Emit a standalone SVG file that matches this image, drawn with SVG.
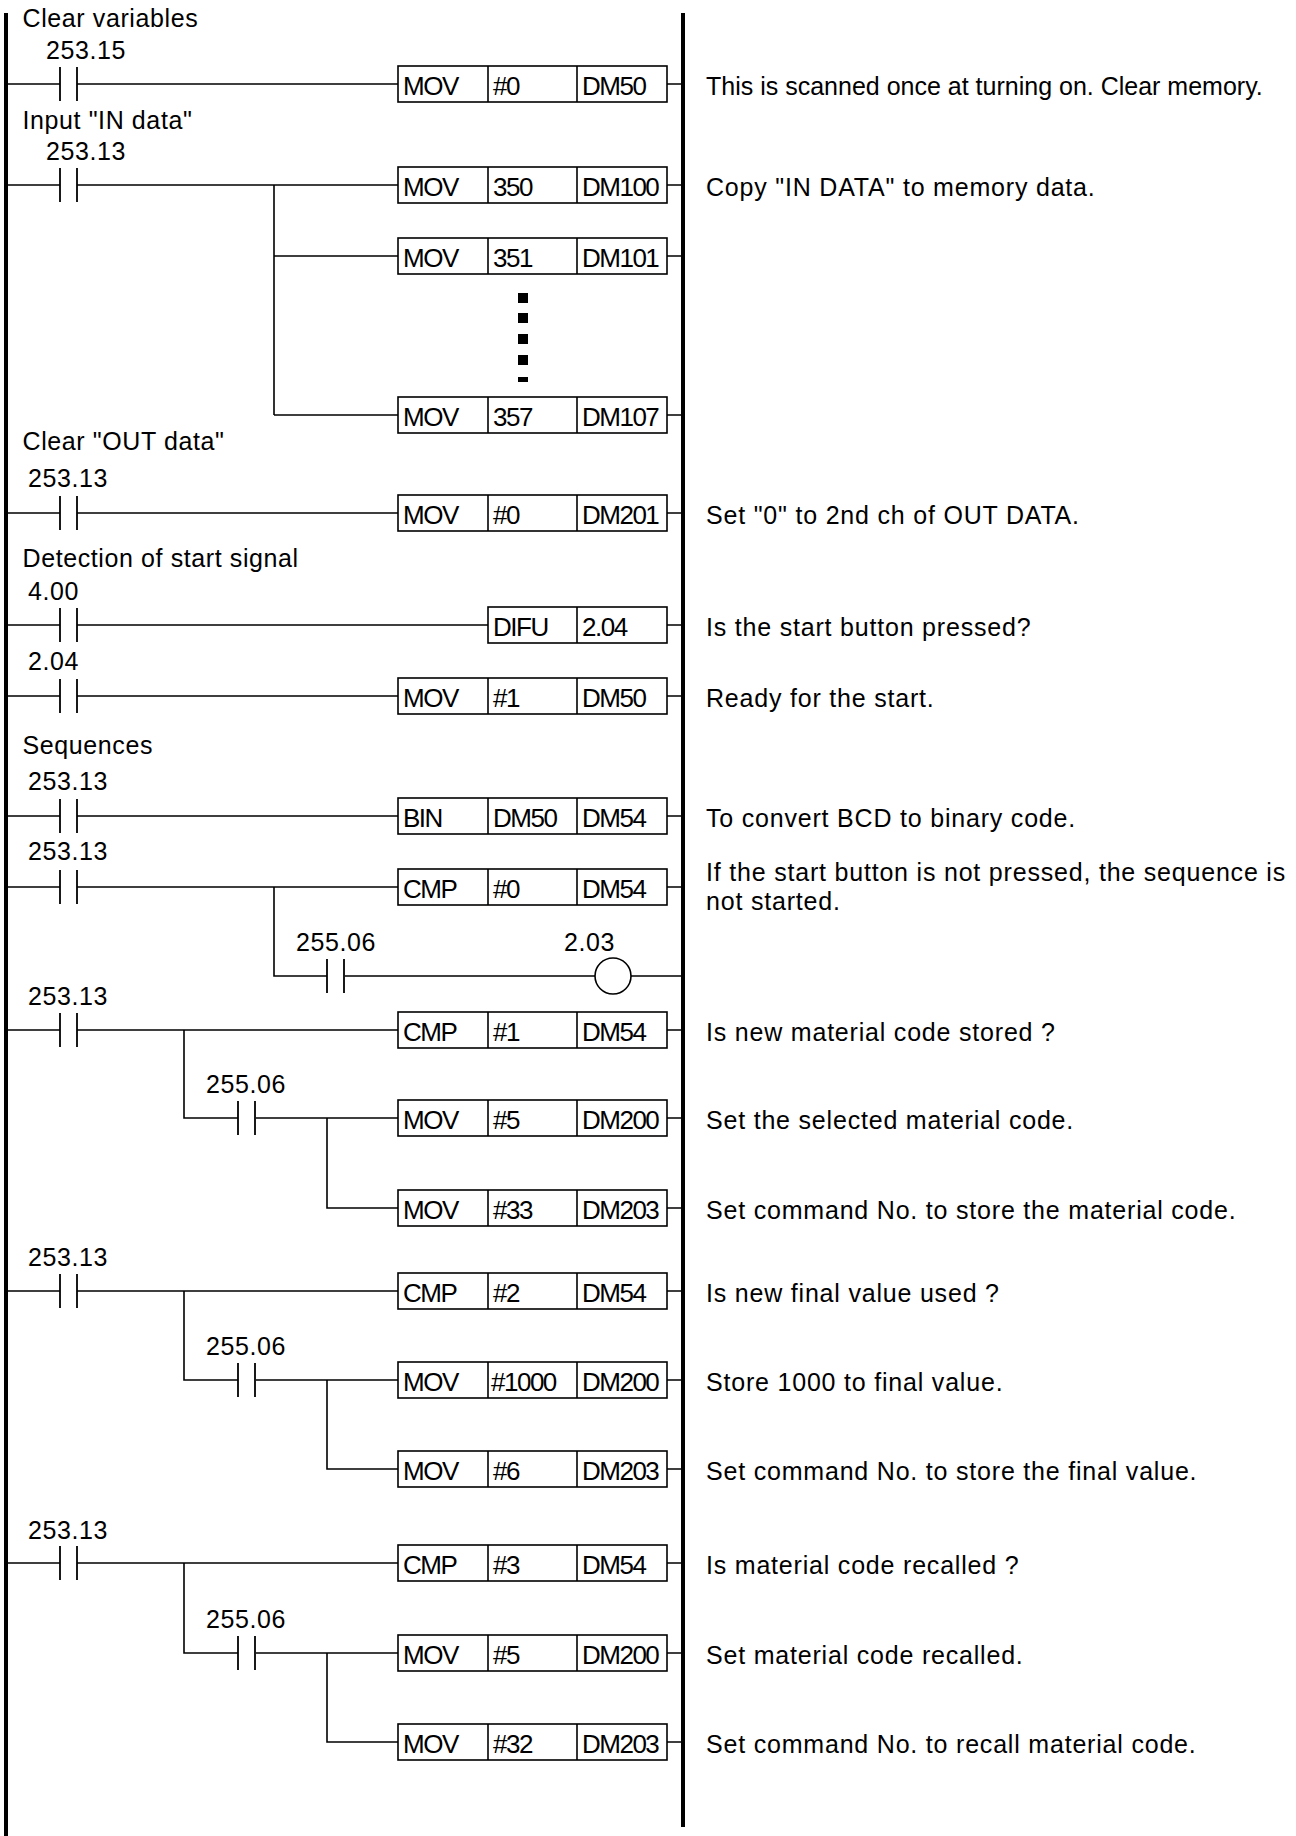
<svg xmlns="http://www.w3.org/2000/svg" width="1296" height="1836" viewBox="0 0 1296 1836">
<style>
.ln{stroke:#000;stroke-width:1.6;fill:none}
.bar{stroke:#000;stroke-width:1.8;fill:none}
.box{fill:#fff;stroke:#000;stroke-width:1.6}
text{font-family:"Liberation Sans",Arial,Helvetica,sans-serif;fill:#000}
.lbl{font-size:25px;letter-spacing:0.6px}
.bt{font-size:26px;letter-spacing:-1.5px}
.cm{font-size:25px;letter-spacing:0.8px}
.cm0{font-size:25px}
</style>
<defs>
<g id="contact"><line class="bar" x1="0" y1="-17" x2="0" y2="17"/><line class="bar" x1="17" y1="-17" x2="17" y2="17"/></g>
<g id="box3"><rect class="box" x="0" y="-18" width="269" height="36"/><line class="ln" x1="90" y1="-18" x2="90" y2="18"/><line class="ln" x1="179" y1="-18" x2="179" y2="18"/></g>
</defs>
<rect width="1296" height="1836" fill="#fff"/>
<!-- rails -->
<g id="rails">
<rect x="4" y="13" width="4" height="1823" fill="#000"/>
<rect x="681" y="13" width="4" height="1814" fill="#000"/>
</g>
<!-- connectors -->
<g id="connectors">
<path class="ln" d="M8 84H60M77 84H398M667 84H681"/>
<path class="ln" d="M8 185H60M77 185H398M667 185H681M274 185V415M274 256H398M667 256H681M274 415H398M667 415H681"/>
<path class="ln" d="M8 513H60M77 513H398M667 513H681"/>
<path class="ln" d="M8 625H60M77 625H488M667 625H681"/>
<path class="ln" d="M8 696H60M77 696H398M667 696H681"/>
<path class="ln" d="M8 816H60M77 816H398M667 816H681"/>
<path class="ln" d="M8 887H60M77 887H398M667 887H681M274 887V976H327M345 976H595M631 976H681"/>
<path class="ln" d="M8 1030H60M77 1030H398M667 1030H681M184 1030V1118H238M256 1118H398M667 1118H681M327 1118V1208H398M667 1208H681"/>
<path class="ln" d="M8 1291H60M77 1291H398M667 1291H681M184 1291V1380H238M256 1380H398M667 1380H681M327 1380V1469H398M667 1469H681"/>
<path class="ln" d="M8 1563H60M77 1563H398M667 1563H681M184 1563V1653H238M256 1653H398M667 1653H681M327 1653V1742H398M667 1742H681"/>
</g>
<!-- section titles -->
<g id="titles">
<text class="lbl" x="22.5" y="27">Clear variables</text>
<text class="lbl" x="22.5" y="129">Input "IN data"</text>
<text class="lbl" x="22.5" y="450">Clear "OUT data"</text>
<text class="lbl" x="22.5" y="567">Detection of start signal</text>
<text class="lbl" x="22.5" y="754">Sequences</text>
</g>
<!-- contacts -->
<g id="c1"><use href="#contact" x="60" y="84"/><text class="lbl" x="46" y="59">253.15</text></g>
<g id="c2"><use href="#contact" x="60" y="185"/><text class="lbl" x="46" y="160">253.13</text></g>
<g id="c5"><use href="#contact" x="60" y="513"/><text class="lbl" x="28" y="487">253.13</text></g>
<g id="c6"><use href="#contact" x="60" y="625"/><text class="lbl" x="28" y="600">4.00</text></g>
<g id="c7"><use href="#contact" x="60" y="696"/><text class="lbl" x="28" y="670">2.04</text></g>
<g id="c8"><use href="#contact" x="60" y="816"/><text class="lbl" x="28" y="790">253.13</text></g>
<g id="c9"><use href="#contact" x="60" y="887"/><text class="lbl" x="28" y="860">253.13</text></g>
<g id="c10"><use href="#contact" x="327" y="976"/><text class="lbl" x="296" y="951">255.06</text></g>
<g id="coil"><circle cx="613" cy="976" r="18" class="box"/><text class="lbl" x="564" y="951">2.03</text></g>
<g id="c11"><use href="#contact" x="60" y="1030"/><text class="lbl" x="28" y="1005">253.13</text></g>
<g id="c12"><use href="#contact" x="238" y="1118"/><text class="lbl" x="206" y="1093">255.06</text></g>
<g id="c14"><use href="#contact" x="60" y="1291"/><text class="lbl" x="28" y="1266">253.13</text></g>
<g id="c15"><use href="#contact" x="238" y="1380"/><text class="lbl" x="206" y="1355">255.06</text></g>
<g id="c17"><use href="#contact" x="60" y="1563"/><text class="lbl" x="28" y="1539">253.13</text></g>
<g id="c18"><use href="#contact" x="238" y="1653"/><text class="lbl" x="206" y="1628">255.06</text></g>
<!-- instruction boxes -->
<g id="b1"><use href="#box3" x="398" y="84"/><text class="bt" x="403" y="95">MOV</text><text class="bt" x="493" y="95">#0</text><text class="bt" x="582" y="95">DM50</text></g>
<g id="b2"><use href="#box3" x="398" y="185"/><text class="bt" x="403" y="196">MOV</text><text class="bt" x="493" y="196">350</text><text class="bt" x="582" y="196">DM100</text></g>
<g id="b3"><use href="#box3" x="398" y="256"/><text class="bt" x="403" y="267">MOV</text><text class="bt" x="493" y="267">351</text><text class="bt" x="582" y="267">DM101</text></g>
<g id="dots">
<rect x="518" y="293" width="10" height="10"/><rect x="518" y="313" width="10" height="10"/><rect x="518" y="334" width="10" height="10"/><rect x="518" y="355" width="10" height="10"/><rect x="518" y="377" width="10" height="5"/>
</g>
<g id="b4"><use href="#box3" x="398" y="415"/><text class="bt" x="403" y="426">MOV</text><text class="bt" x="493" y="426">357</text><text class="bt" x="582" y="426">DM107</text></g>
<g id="b5"><use href="#box3" x="398" y="513"/><text class="bt" x="403" y="524">MOV</text><text class="bt" x="493" y="524">#0</text><text class="bt" x="582" y="524">DM201</text></g>
<g id="b6"><rect class="box" x="488" y="607" width="179" height="36"/><line class="ln" x1="577" y1="607" x2="577" y2="643"/><text class="bt" x="493" y="636">DIFU</text><text class="bt" x="582" y="636">2.04</text></g>
<g id="b7"><use href="#box3" x="398" y="696"/><text class="bt" x="403" y="707">MOV</text><text class="bt" x="493" y="707">#1</text><text class="bt" x="582" y="707">DM50</text></g>
<g id="b8"><use href="#box3" x="398" y="816"/><text class="bt" x="403" y="827">BIN</text><text class="bt" x="493" y="827">DM50</text><text class="bt" x="582" y="827">DM54</text></g>
<g id="b9"><use href="#box3" x="398" y="887"/><text class="bt" x="403" y="898">CMP</text><text class="bt" x="493" y="898">#0</text><text class="bt" x="582" y="898">DM54</text></g>
<g id="b11"><use href="#box3" x="398" y="1030"/><text class="bt" x="403" y="1041">CMP</text><text class="bt" x="493" y="1041">#1</text><text class="bt" x="582" y="1041">DM54</text></g>
<g id="b12"><use href="#box3" x="398" y="1118"/><text class="bt" x="403" y="1129">MOV</text><text class="bt" x="493" y="1129">#5</text><text class="bt" x="582" y="1129">DM200</text></g>
<g id="b13"><use href="#box3" x="398" y="1208"/><text class="bt" x="403" y="1219">MOV</text><text class="bt" x="493" y="1219">#33</text><text class="bt" x="582" y="1219">DM203</text></g>
<g id="b14"><use href="#box3" x="398" y="1291"/><text class="bt" x="403" y="1302">CMP</text><text class="bt" x="493" y="1302">#2</text><text class="bt" x="582" y="1302">DM54</text></g>
<g id="b15"><use href="#box3" x="398" y="1380"/><text class="bt" x="403" y="1391">MOV</text><text class="bt" x="491" y="1391">#1000</text><text class="bt" x="582" y="1391">DM200</text></g>
<g id="b16"><use href="#box3" x="398" y="1469"/><text class="bt" x="403" y="1480">MOV</text><text class="bt" x="493" y="1480">#6</text><text class="bt" x="582" y="1480">DM203</text></g>
<g id="b17"><use href="#box3" x="398" y="1563"/><text class="bt" x="403" y="1574">CMP</text><text class="bt" x="493" y="1574">#3</text><text class="bt" x="582" y="1574">DM54</text></g>
<g id="b18"><use href="#box3" x="398" y="1653"/><text class="bt" x="403" y="1664">MOV</text><text class="bt" x="493" y="1664">#5</text><text class="bt" x="582" y="1664">DM200</text></g>
<g id="b19"><use href="#box3" x="398" y="1742"/><text class="bt" x="403" y="1753">MOV</text><text class="bt" x="493" y="1753">#32</text><text class="bt" x="582" y="1753">DM203</text></g>
<!-- comments -->
<g id="comments">
<text class="cm0" x="706" y="95">This is scanned once at turning on. Clear memory.</text>
<text class="cm" x="706" y="196">Copy "IN DATA" to memory data.</text>
<text class="cm" x="706" y="524">Set "0" to 2nd ch of OUT DATA.</text>
<text class="cm" x="706" y="636">Is the start button pressed?</text>
<text class="cm" x="706" y="707">Ready for the start.</text>
<text class="cm" x="706" y="827">To convert BCD to binary code.</text>
<text class="cm" x="706" y="881">If the start button is not pressed, the sequence is</text>
<text class="cm" x="706" y="910">not started.</text>
<text class="cm" x="706" y="1041">Is new material code stored ?</text>
<text class="cm" x="706" y="1129">Set the selected material code.</text>
<text class="cm" x="706" y="1219">Set command No. to store the material code.</text>
<text class="cm" x="706" y="1302">Is new final value used ?</text>
<text class="cm" x="706" y="1391">Store 1000 to final value.</text>
<text class="cm" x="706" y="1480">Set command No. to store the final value.</text>
<text class="cm" x="706" y="1574">Is material code recalled ?</text>
<text class="cm" x="706" y="1664">Set material code recalled.</text>
<text class="cm" x="706" y="1753">Set command No. to recall material code.</text>
</g>
</svg>
